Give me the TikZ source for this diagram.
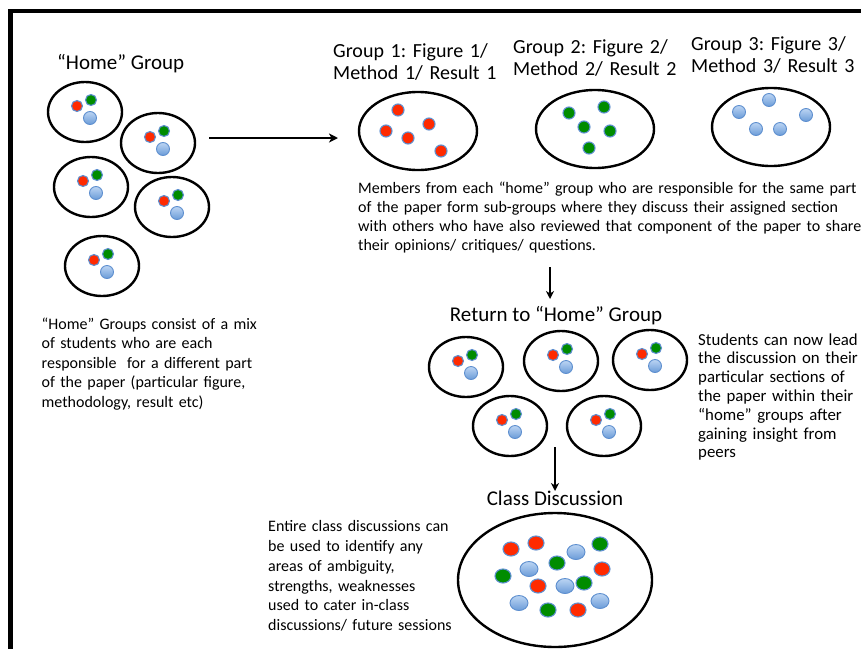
\documentclass[tikz,border=0pt]{standalone}
\usepackage{fontspec}
\setmainfont{Carlito}
\frenchspacing
\usetikzlibrary{arrows.meta,shapes.geometric}
\definecolor{dred}{HTML}{FF2A00}
\definecolor{dgreen}{HTML}{008C00}
\definecolor{dblueT}{HTML}{BCD5F3}
\definecolor{dblueB}{HTML}{6A9BD8}
\definecolor{dedge}{HTML}{5E8FCF}
\begin{document}
\begin{tikzpicture}[x=1pt,y=-1pt,
  grp/.style={ellipse,draw=black,line width=2.4pt,inner sep=0pt,minimum width=74pt,minimum height=60pt},
  subgrp/.style={grp,minimum width=118pt,minimum height=78pt},
  classgrp/.style={grp,minimum width=194pt,minimum height=134pt},
  rdot/.style={circle,fill=dred,draw=dedge,line width=1.1pt,minimum size=11pt,inner sep=0pt},
  gdot/.style={rdot,fill=dgreen},
  bdot/.style={circle,top color=dblueT,bottom color=dblueB,draw=dedge,line width=0.9pt,minimum size=13pt,inner sep=0pt},
  crdot/.style={rdot,ellipse,minimum width=16pt,minimum height=14pt},
  cgdot/.style={gdot,ellipse,minimum width=16pt,minimum height=14pt},
  cbdot/.style={bdot,ellipse,minimum width=18pt,minimum height=15pt},
  title/.style={font=\fontsize{21}{22}\selectfont,inner sep=0pt},
  glabel/.style={font=\fontsize{20}{22}\selectfont,inner sep=0pt,text width=180pt,align=left,anchor=base west},
  body/.style={font=\fontsize{16}{19.6}\selectfont,inner sep=0pt,text width=#1,align=left,anchor=base west},
  conn/.style={-{Stealth[length=9pt,width=9pt,inset=2.5pt]},line width=1.8pt},
  dconn/.style={-{Stealth[length=8pt,width=8pt,inset=2.5pt]},line width=1.5pt}]
\useasboundingbox (0,0) rectangle (861,648);
\clip (0,0) rectangle (861,648);
\fill[white] (0,0) rectangle (861,648);
% frame
\draw[line width=4.6pt] (10.4,660) -- (10.4,11) -- (875,11);

% home groups
\node[title,anchor=base west] (homelbl) at (57,69) {“Home” Group};
\foreach \n/\x/\y in {1/85/112,2/158/143,3/91/187,4/172/207,5/102/266}{
  \node[grp] (home\n) at (\x,\y) {};
  \node[rdot] (home\n r) at (\x-8,\y-6) {};
  \node[gdot] (home\n g) at (\x+6,\y-12) {};
  \node[bdot] (home\n b) at (\x+5,\y+6) {};
}
\node[body=260pt] (hometxt) at (41.5,329) {“Home” Groups consist of a mix\\
of students who are each\\
responsible\ \ for a different part\\
of the paper (particular figure,\\
methodology, result etc)};

% arrow to sub-groups
\coordinate (a1s) at (209,138);
\coordinate (a1e) at (338,138);
\draw[conn] (a1s) -- (a1e);

% sub-groups
\node[glabel] (g1lbl) at (333,57) {Group 1: Figure 1/\\Method 1/ Result 1};
\node[glabel] (g2lbl) at (513,53) {Group 2: Figure 2/\\Method 2/ Result 2};
\node[glabel] (g3lbl) at (691,50) {Group 3: Figure 3/\\Method 3/ Result 3};
\node[subgrp] (g1) at (418,131) {};
\node[subgrp] (g2) at (595,129) {};
\node[subgrp] (g3) at (771,127) {};
\foreach \i/\x/\y in {1/398/110,2/429/124,3/386/131,4/408/138,5/441/151}
  \node[rdot,minimum size=12pt] (g1d\i) at (\x,\y) {};
\foreach \i/\x/\y in {1/604/107,2/569/113,3/584/127,4/610/131,5/589/148}
  \node[gdot,minimum size=12pt] (g2d\i) at (\x,\y) {};
\foreach \i/\x/\y in {1/769/100,2/739/112,3/806/115,4/756/129,5/780/129}
  \node[bdot] (g3d\i) at (\x,\y) {};
\node[body=540pt,font=\fontsize{16}{19.3}\selectfont] (membtxt) at (358,193) {Members from each “home” group who are responsible for the same part\\
of the paper form sub-groups where they discuss their assigned section\\
with others who have also reviewed that component of the paper to share\\
their opinions/ critiques/ questions.};

% arrow to return
\coordinate (a2s) at (550,267);
\coordinate (a2e) at (550,299);
\draw[dconn] (a2s) -- (a2e);

% return to home group
\node[title,anchor=base] (retlbl) at (556,321) {Return to “Home” Group};
\foreach \n/\x/\y in {1/466/367,2/561/361,3/650/360,4/510/426,5/604/426}{
  \node[grp] (ret\n) at (\x,\y) {};
  \node[rdot] (ret\n r) at (\x-8,\y-6) {};
  \node[gdot] (ret\n g) at (\x+6,\y-12) {};
  \node[bdot] (ret\n b) at (\x+5,\y+6) {};
}
\node[body=180pt,font=\fontsize{16.8}{18.8}\selectfont] (rettxt) at (698,345) {Students can now lead\\
the discussion on their\\
particular sections of\\
the paper within their\\
“home” groups after\\
gaining insight from\\
peers};

% arrow to class discussion
\coordinate (a3s) at (555,447);
\coordinate (a3e) at (555,491);
\draw[dconn] (a3s) -- (a3e);

% class discussion
\node[title,anchor=base] (classlbl) at (555,505.5) {Class Discussion};
\node[classgrp] (class) at (555,580) {};
\foreach \i/\x/\y in {1/511/549,2/536/543,3/602/569,4/538/586,5/578/610}
  \node[crdot] (cr\i) at (\x,\y) {};
\foreach \i/\x/\y in {1/600/544,2/557/563,3/503/576,4/584/583,5/548/610}
  \node[cgdot] (cg\i) at (\x,\y) {};
\foreach \i/\x/\y in {1/576/552,2/529/569,3/565/586,4/519/603,5/600/601}
  \node[cbdot] (cb\i) at (\x,\y) {};
\node[body=220pt,font=\fontsize{16}{19.8}\selectfont] (classtxt) at (268,531.7) {Entire class discussions can\\
be used to identify any\\
areas of ambiguity,\\
strengths, weaknesses\\
used to cater in-class\\
discussions/ future sessions};
\end{tikzpicture}
\end{document}
